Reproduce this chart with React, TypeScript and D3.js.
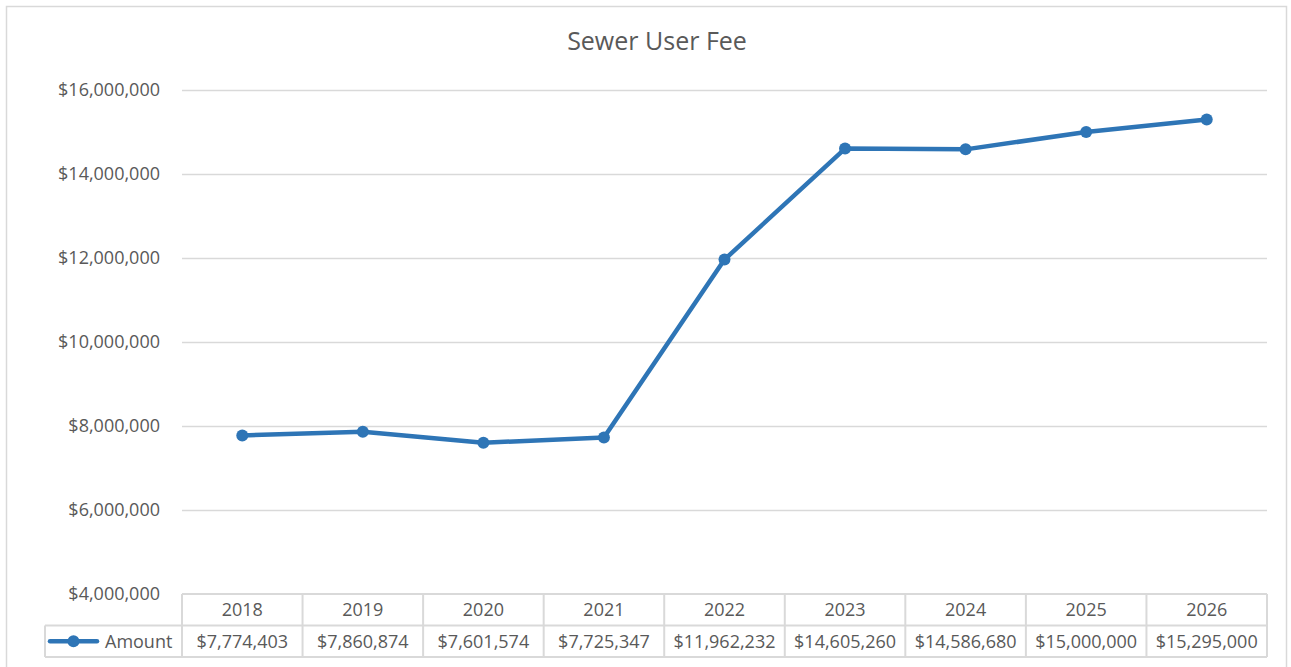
import React, { useEffect, useRef } from 'react';
import * as d3 from 'd3';

const title = 'Sewer User Fee';
const seriesName = 'Amount';
const years = ['2018', '2019', '2020', '2021', '2022', '2023', '2024', '2025', '2026'];
const amounts = [7774403, 7860874, 7601574, 7725347, 11962232, 14605260, 14586680, 15000000, 15295000];
const yTicks = [4000000, 6000000, 8000000, 10000000, 12000000, 14000000, 16000000];

const W = 1291;
const H = 667;
const BLUE = '#2E75B6';
const TEXT = '#595959';
const GRID = '#d9d9d9';
const FONT = '"Open Sans", "Noto Sans", sans-serif';

const App = () => {
  const svgRef = useRef<SVGSVGElement>(null);

  useEffect(() => {
    document.body.style.margin = '0';
    const svg = d3.select(svgRef.current);
    svg.selectAll('*').remove();

    const plot = { left: 182, right: 1267, top: 90, bottom: 594 };
    const rowH = 31.5;

    const x = d3.scaleBand().domain(years).range([plot.left, plot.right]).padding(0);
    const y = d3.scaleLinear().domain([4000000, 16000000]).range([plot.bottom, plot.top]);
    const fmt = d3.format('$,.0f');

    // chart frame
    svg.append('rect')
      .attr('x', 6.5).attr('y', 6.5)
      .attr('width', 1280).attr('height', 670)
      .attr('fill', '#fff').attr('stroke', GRID).attr('stroke-width', 1.5);

    svg.append('text')
      .attr('x', 657).attr('y', 50)
      .attr('text-anchor', 'middle')
      .attr('fill', TEXT)
      .style('font-family', FONT)
      .style('font-size', '25px')
      .text(title);

    // gridlines + y labels
    const yAxis = svg.append('g');
    yAxis.selectAll('line')
      .data(yTicks.slice(1))
      .enter().append('line')
      .attr('x1', plot.left).attr('x2', plot.right)
      .attr('y1', d => Math.round(y(d)) + 0.5).attr('y2', d => Math.round(y(d)) + 0.5)
      .attr('stroke', GRID).attr('stroke-width', 1.5);
    yAxis.selectAll('text')
      .data(yTicks)
      .enter().append('text')
      .attr('x', 160).attr('y', d => y(d))
      .attr('dy', '0.35em')
      .attr('text-anchor', 'end')
      .attr('fill', TEXT)
      .style('font-family', FONT)
      .style('font-size', '18px')
      .text(d => fmt(d));

    // data table
    const table = svg.append('g');
    const top = plot.bottom;
    const legendLeft = 45;
    table.append('line')
      .attr('x1', plot.left).attr('x2', plot.right)
      .attr('y1', top).attr('y2', top)
      .attr('stroke', GRID).attr('stroke-width', 2);
    table.append('line')
      .attr('x1', legendLeft).attr('x2', plot.right)
      .attr('y1', top + rowH).attr('y2', top + rowH)
      .attr('stroke', GRID).attr('stroke-width', 2);
    table.append('line')
      .attr('x1', legendLeft).attr('x2', plot.right)
      .attr('y1', top + rowH * 2).attr('y2', top + rowH * 2)
      .attr('stroke', GRID).attr('stroke-width', 2);
    table.append('line')
      .attr('x1', legendLeft).attr('x2', legendLeft)
      .attr('y1', top + rowH).attr('y2', top + rowH * 2)
      .attr('stroke', GRID).attr('stroke-width', 2);
    table.selectAll('.vline')
      .data([...years.map(d => x(d) as number), plot.right])
      .enter().append('line')
      .attr('class', 'vline')
      .attr('x1', d => d).attr('x2', d => d)
      .attr('y1', top).attr('y2', top + rowH * 2)
      .attr('stroke', GRID).attr('stroke-width', 2);

    table.selectAll('.year')
      .data(years)
      .enter().append('text')
      .attr('class', 'year')
      .attr('x', d => (x(d) as number) + x.bandwidth() / 2)
      .attr('y', top + rowH / 2)
      .attr('dy', '0.35em')
      .attr('text-anchor', 'middle')
      .attr('fill', TEXT)
      .style('font-family', FONT)
      .style('font-size', '18px')
      .text(d => d);

    table.selectAll('.amt')
      .data(amounts)
      .enter().append('text')
      .attr('class', 'amt')
      .attr('x', (d, i) => (x(years[i]) as number) + x.bandwidth() / 2)
      .attr('y', top + rowH * 1.5)
      .attr('dy', '0.35em')
      .attr('text-anchor', 'middle')
      .attr('fill', TEXT)
      .style('font-family', FONT)
      .style('font-size', '18px')
      .text(d => fmt(d));

    // legend key
    const ly = top + rowH * 1.5;
    table.append('line')
      .attr('x1', 50).attr('x2', 97)
      .attr('y1', ly).attr('y2', ly)
      .attr('stroke', BLUE).attr('stroke-width', 4.5).attr('stroke-linecap', 'round');
    table.append('circle')
      .attr('cx', 73.5).attr('cy', ly).attr('r', 6).attr('fill', BLUE);
    table.append('text')
      .attr('x', 105).attr('y', ly)
      .attr('dy', '0.35em')
      .attr('fill', TEXT)
      .style('font-family', FONT)
      .style('font-size', '18px')
      .text(seriesName);

    // series
    const line = d3.line<number>()
      .x((d, i) => (x(years[i]) as number) + x.bandwidth() / 2)
      .y(d => y(d));

    svg.append('path')
      .datum(amounts)
      .attr('fill', 'none')
      .attr('stroke', BLUE)
      .attr('stroke-width', 4.5)
      .attr('stroke-linejoin', 'round')
      .attr('d', line);

    svg.selectAll('.dot')
      .data(amounts)
      .enter().append('circle')
      .attr('class', 'dot')
      .attr('cx', (d, i) => (x(years[i]) as number) + x.bandwidth() / 2)
      .attr('cy', d => y(d))
      .attr('r', 6)
      .attr('fill', BLUE);
  }, []);

  return <svg ref={svgRef} width={W} height={H} style={{ display: 'block' }}></svg>;
};

export default App;
